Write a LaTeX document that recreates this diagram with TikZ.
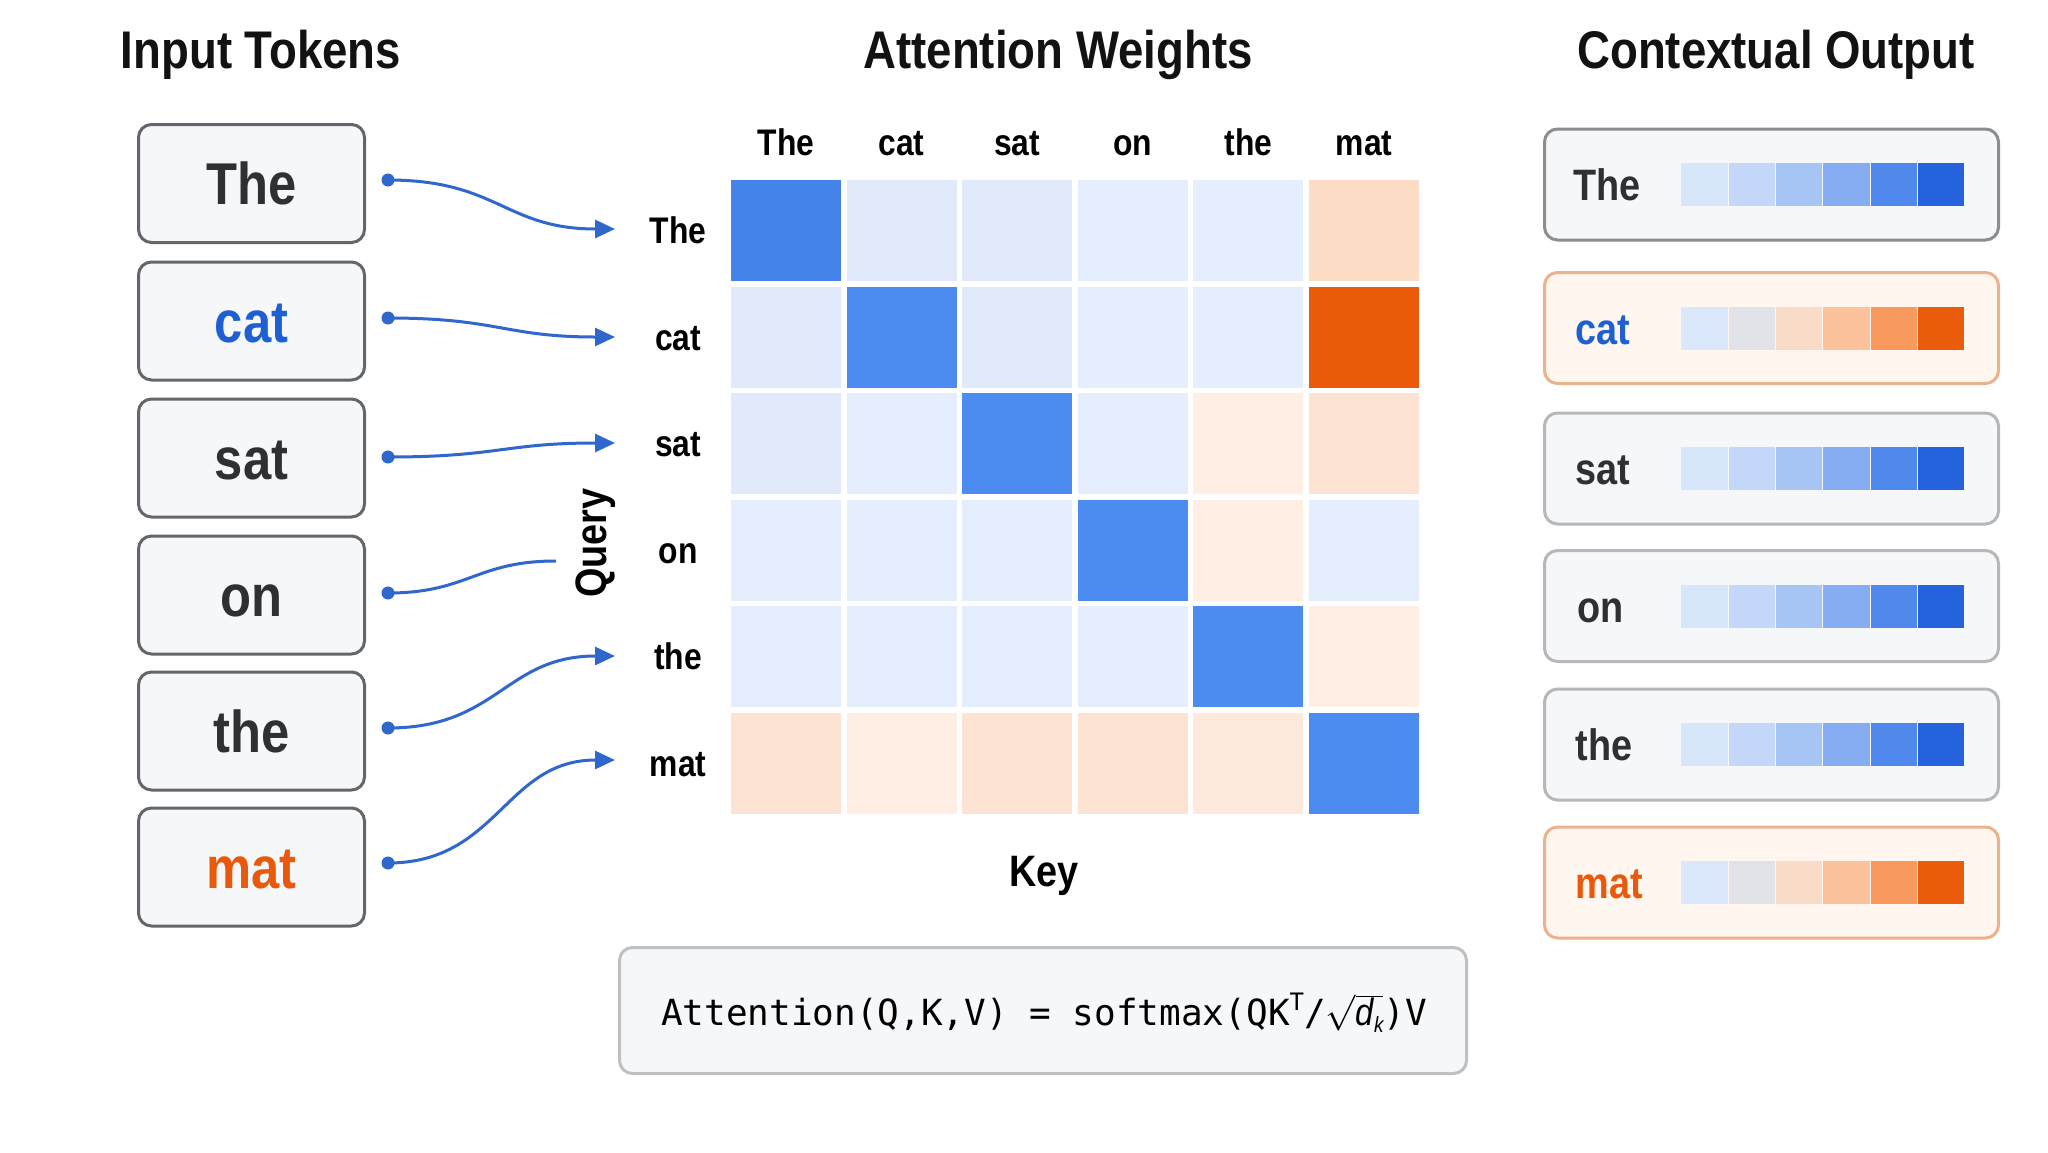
\RequirePackage{fix-cm}
\documentclass[tikz,border=0pt]{standalone}
\usepackage{fontspec}
\setmainfont{Liberation Sans}
\newfontfamily\cf[FakeStretch=0.86]{Liberation Sans}
\newfontfamily\monof{DejaVu Sans Mono}
\usetikzlibrary{arrows.meta}
\definecolor{boxfill}{HTML}{F6F7F9}
\definecolor{tokborder}{HTML}{63666B}
\definecolor{darktxt}{HTML}{2E3034}
\definecolor{bluetxt}{HTML}{1E60D4}
\definecolor{orangetxt}{HTML}{E8590C}
\definecolor{arrowblue}{HTML}{2F67CC}
\definecolor{titlec}{HTML}{121212}
\definecolor{hB}{HTML}{4C8CF0}
\definecolor{hB0}{HTML}{4483EA}
\definecolor{hL}{HTML}{E0EAFB}
\definecolor{hL2}{HTML}{E5EEFC}
\definecolor{hO}{HTML}{EB5A0A}
\definecolor{hP}{HTML}{FCDCC4}
\definecolor{hP2}{HTML}{FDE3D1}
\definecolor{hP3}{HTML}{FEEEE3}
\definecolor{outgray}{HTML}{B6B7BA}
\definecolor{outdark}{HTML}{8B8D91}
\definecolor{outorange}{HTML}{ECB28E}
\definecolor{outofill}{HTML}{FFF6F0}
\definecolor{formborder}{HTML}{BFC0C2}
\definecolor{bb1}{HTML}{D8E6FC}
\definecolor{bb2}{HTML}{C4D9F9}
\definecolor{bb3}{HTML}{A6C4F4}
\definecolor{bb4}{HTML}{86ADF1}
\definecolor{bb5}{HTML}{5089EB}
\definecolor{bb6}{HTML}{2563DE}
\definecolor{ob1}{HTML}{DBE7FB}
\definecolor{ob2}{HTML}{E1E3E8}
\definecolor{ob3}{HTML}{F8DCC8}
\definecolor{ob4}{HTML}{FCC29C}
\definecolor{ob5}{HTML}{F89A5E}
\definecolor{ob6}{HTML}{EB5B0C}
\tikzset{
  title/.style={font=\cf\bfseries\fontsize{53}{58}\selectfont, text=titlec, anchor=base},
  tok/.style={draw=tokborder, line width=3pt, fill=boxfill, rounded corners=13pt,
    minimum width=226pt, minimum height=118pt, inner sep=0pt,
    text height=42pt, text depth=0pt,
    font=\cf\bfseries\fontsize{59}{64}\selectfont, text=darktxt},
  lab/.style={font=\cf\bfseries\fontsize{37}{42}\selectfont, text=black, anchor=base},
  axislab/.style={font=\cf\bfseries\fontsize{44}{50}\selectfont, text=black},
  cell/.style={minimum width=110pt, minimum height=101pt, inner sep=0pt, draw=none},
  outbox/.style={rounded corners=13pt, line width=3pt, minimum width=454pt, minimum height=111pt, inner sep=0pt},
  outplain/.style={outbox, draw=outgray, fill=boxfill},
  outhl/.style={outbox, draw=outorange, fill=outofill},
  outtxt/.style={font=\cf\bfseries\fontsize{44}{50}\selectfont, text=darktxt, anchor=base west},
  bar/.style={minimum width=46.3pt, minimum height=43pt, inner sep=0pt, draw=none},
  conn/.style={draw=arrowblue, line width=3pt},
  conntip/.style={conn, -{Triangle[length=20pt,width=18pt]}},
  dotn/.style={circle, fill=arrowblue, inner sep=0pt, minimum size=13pt},
}
\begin{document}
\begin{tikzpicture}[x=1pt,y=-1pt]
\path[use as bounding box, fill=white] (0,0) rectangle (2048,1152);

% titles
\node[title] (t1) at (261,68) {Input Tokens};
\node[title] (t2) at (1058,68) {Attention Weights};
\node[title] (t3) at (1776,68) {Contextual Output};

% input tokens
\node[tok] (in1) at (251.5,183.5) {The};
\node[tok, text=bluetxt] (in2) at (251.5,321) {cat};
\node[tok] (in3) at (251.5,458) {sat};
\node[tok] (in4) at (251.5,595) {on};
\node[tok] (in5) at (251.5,731) {the};
\node[tok, text=orangetxt] (in6) at (251.5,867) {mat};

% dots
\node[dotn] (d1) at (388,180) {};
\node[dotn] (d2) at (388,318) {};
\node[dotn] (d3) at (388,457) {};
\node[dotn] (d4) at (388,593) {};
\node[dotn] (d5) at (388,728) {};
\node[dotn] (d6) at (388,863) {};

% arrow ends
\coordinate (e1) at (615,229);
\coordinate (e2) at (615,337);
\coordinate (e3) at (615,443);
\coordinate (e4) at (556,561);
\coordinate (e5) at (615,656);
\coordinate (e6) at (615,760);

\draw[conntip] (d1.center) .. controls +(110,0) and +(-110,0) .. (e1);
\draw[conntip] (d2.center) .. controls +(110,0) and +(-110,0) .. (e2);
\draw[conntip] (d3.center) .. controls +(110,0) and +(-110,0) .. (e3);
\draw[conn] (d4.center) .. controls +(80,0) and +(-80,0) .. (e4);
\draw[conntip] (d5.center) .. controls +(110,0) and +(-110,0) .. (e5);
\draw[conntip] (d6.center) .. controls +(110,0) and +(-110,0) .. (e6);

% heat map
\foreach \c [count=\i from 0] in {hB0,hL,hL,hL2,hL2,hP}
  \node[cell, fill=\c] (m0\i) at (786+115.6*\i,230.5) {};
\foreach \c [count=\i from 0] in {hL,hB,hL,hL2,hL2,hO}
  \node[cell, fill=\c] (m1\i) at (786+115.6*\i,337.1) {};
\foreach \c [count=\i from 0] in {hL,hL2,hB,hL2,hP3,hP2}
  \node[cell, fill=\c] (m2\i) at (786+115.6*\i,443.7) {};
\foreach \c [count=\i from 0] in {hL2,hL2,hL2,hB,hP3,hL2}
  \node[cell, fill=\c] (m3\i) at (786+115.6*\i,550.3) {};
\foreach \c [count=\i from 0] in {hL2,hL2,hL2,hL2,hB,hP3}
  \node[cell, fill=\c] (m4\i) at (786+115.6*\i,656.9) {};
\foreach \c [count=\i from 0] in {hP2,hP3,hP2,hP2,hP3!60!hP2,hB}
  \node[cell, fill=\c] (m5\i) at (786+115.6*\i,763.5) {};

% column labels
\foreach \w [count=\i from 0] in {The,cat,sat,on,the,mat}
  \node[lab] (k\i) at (786+115.6*\i,155) {\w};
% row labels
\foreach \w [count=\i from 0] in {The,cat,sat,on,the,mat}
  \node[lab] (q\i) at (678,243.5+106.6*\i) {\w};

\node[axislab, rotate=90] (query) at (596,543) {Query};
\node[axislab, anchor=base] (key) at (1044,886) {Key};

% formula
\node[draw=formborder, line width=3pt, fill=boxfill, rounded corners=13pt,
  minimum width=847pt, minimum height=126pt] (form) at (1043,1010.5) {};
\node[anchor=base, inner sep=0pt, font=\monof\fontsize{36}{42}\selectfont, text=black] (ftext) at (1044,1025)
  {Attention(Q,K,V) = softmax(QK\raisebox{15pt}{\fontsize{24}{24}\selectfont T}/$\sqrt{\hbox{\cf\itshape\fontsize{38}{40}\selectfont d\raisebox{-7pt}{\fontsize{22}{22}\selectfont k}}}$)V};

% contextual output
\node[outplain, draw=outdark] (o1) at (1771.5,184.5) {};
\node[outhl] (o2) at (1771.5,328) {};
\node[outplain] (o3) at (1771.5,468.5) {};
\node[outplain] (o4) at (1771.5,606) {};
\node[outplain] (o5) at (1771.5,744.5) {};
\node[outhl] (o6) at (1771.5,882.5) {};

\node[outtxt] (w1) at (1570,200.5) {The};
\node[outtxt, text=bluetxt] (w2) at (1572,344) {cat};
\node[outtxt] (w3) at (1572,484.5) {sat};
\node[outtxt] (w4) at (1574,622) {on};
\node[outtxt] (w5) at (1572,760.5) {the};
\node[outtxt, text=orangetxt] (w6) at (1572,898.5) {mat};

\foreach \r/\y in {1/184.5,3/468.5,4/606,5/744.5}
  \foreach \c [count=\i from 0] in {bb1,bb2,bb3,bb4,bb5,bb6}
    \node[bar, fill=\c] (b\r\i) at (1704.5+47.3*\i,\y) {};
\foreach \r/\y in {2/328,6/882.5}
  \foreach \c [count=\i from 0] in {ob1,ob2,ob3,ob4,ob5,ob6}
    \node[bar, fill=\c] (b\r\i) at (1704.5+47.3*\i,\y) {};
\end{tikzpicture}
\end{document}
